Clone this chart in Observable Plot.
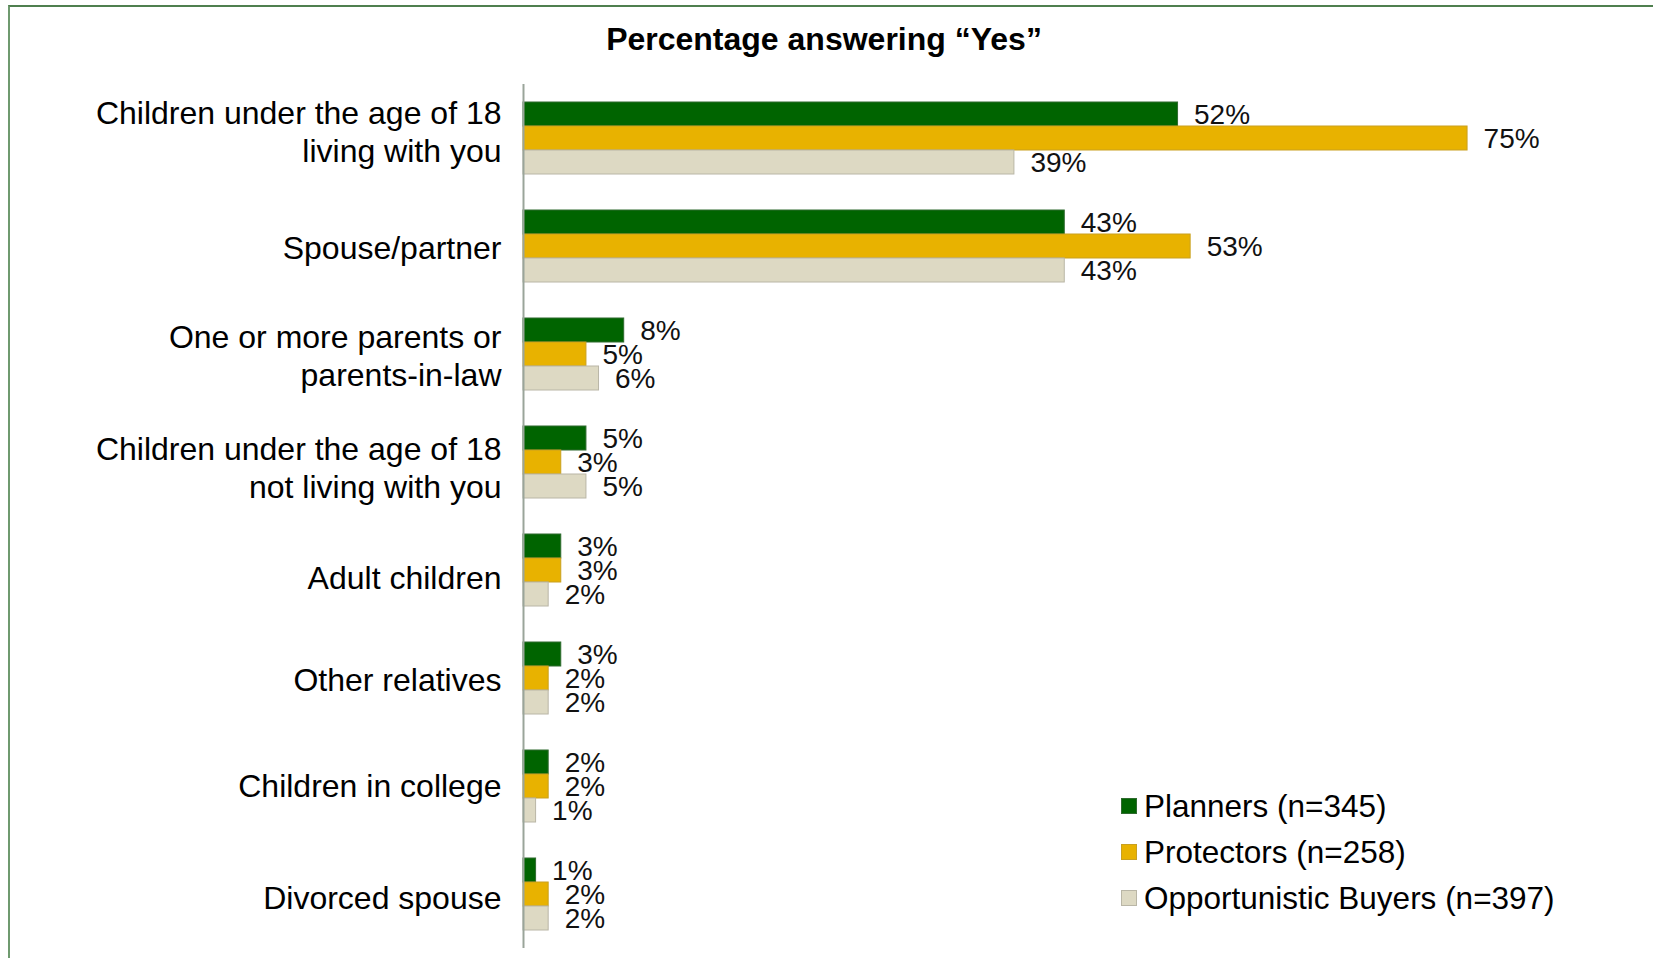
<!DOCTYPE html>
<html>
<head>
<meta charset="utf-8">
<script src="https://cdn.jsdelivr.net/npm/d3@7"></script>
<script src="https://cdn.jsdelivr.net/npm/@observablehq/plot@0.6"></script>
<style>
  html, body { margin: 0; padding: 0; background: #fff; }
  body { position: relative; width: 1653px; height: 958px; overflow: hidden; font-family: "Liberation Sans", Arial, sans-serif; }
  #frame { position: absolute; left: 8px; top: 5px; width: 1700px; height: 1000px; border-left: 2px solid #6f9a6f; border-top: 2px solid #4f7f4f; box-sizing: border-box; }
  #title { position: absolute; left: 0; top: 20px; width: 1648px; text-align: center; font-size: 32px; font-weight: bold; line-height: 38px; color: #000; }
  #chart { position: absolute; left: 0; top: 70px; }
  .legend-row { position: absolute; left: 1121px; height: 40px; display: flex; align-items: center; font-size: 31.5px; color: #000; white-space: nowrap; }
  .legend-row .sw { width: 16px; height: 16px; margin-right: 7px; box-sizing: border-box; border: 1px solid; }
</style>
</head>
<body>
<div id="frame"></div>
<div id="title">Percentage answering “Yes”</div>
<div id="chart"></div>
<div id="legend"></div>
<script>
const categories = [
  "Children under the age of 18 living with you",
  "Spouse/partner",
  "One or more parents or parents-in-law",
  "Children under the age of 18 not living with you",
  "Adult children",
  "Other relatives",
  "Children in college",
  "Divorced spouse"
];
const categoryLabels = [
  "Children under the age of 18\nliving with you",
  "Spouse/partner",
  "One or more parents or\nparents-in-law",
  "Children under the age of 18\nnot living with you",
  "Adult children",
  "Other relatives",
  "Children in college",
  "Divorced spouse"
];
const series = ["Planners (n=345)", "Protectors (n=258)", "Opportunistic Buyers (n=397)"];
const planners = [52, 43, 8, 5, 3, 3, 2, 1];
const protectors = [75, 53, 5, 3, 3, 2, 2, 2];
const opportunistic = [39, 43, 6, 5, 2, 2, 1, 2];
const seriesColors = ["#006400", "#e8b200", "#ddd9c3"];
const seriesStrokes = ["#2f6a2f", "#c9a020", "#b9b6a6"];
// small vertical nudges of the category labels, as placed in the original
const labelNudge = [-8, 0, 0, 4, 6, 0, -2, 2];

const seriesValues = [planners, protectors, opportunistic];
const data = categories.flatMap((c, i) =>
  series.map((s, j) => ({category: c, series: s, value: seriesValues[j][i]}))
);

const nudges = Array.from(new Set(labelNudge));
const axisMarks = nudges.map(n =>
  Plot.axisFy({
    ticks: categories.filter((c, i) => labelNudge[i] === n),
    anchor: "left", tickSize: 0, tickPadding: 22, fontSize: 32, lineHeight: 1.2,
    label: null, fill: "#000", dy: n,
    tickFormat: c => categoryLabels[categories.indexOf(c)]
  })
);

const chart = Plot.plot({
  width: 1653,
  height: 888,
  marginLeft: 523,
  marginRight: 123,
  marginTop: 12,
  marginBottom: 9,
  style: {fontFamily: '"Liberation Sans", Arial, sans-serif', background: "transparent", color: "#000"},
  x: {domain: [0, 80], axis: null},
  y: {domain: series, axis: null, paddingInner: 0, paddingOuter: 0.73},
  fy: {domain: categories, paddingInner: 0, paddingOuter: 0, label: null, axis: null},
  color: {type: "identity"},
  marks: [
    Plot.barX(data, {
      x: "value", y: "series", fy: "category",
      fill: d => seriesColors[series.indexOf(d.series)],
      stroke: d => seriesStrokes[series.indexOf(d.series)],
      strokeWidth: 1
    }),
    Plot.ruleX([0], {stroke: "#9aa59a", strokeWidth: 2}),
    Plot.text(data, {
      x: "value", y: "series", fy: "category",
      text: d => d.value + "%",
      dx: 16, dy: 1, textAnchor: "start", fontSize: 28, fill: "#111"
    }),
    ...axisMarks
  ]
});
document.getElementById("chart").appendChild(chart);

const legendTops = [806, 852, 898];
const legend = document.getElementById("legend");
series.forEach((s, j) => {
  const row = document.createElement("div");
  row.className = "legend-row";
  row.style.top = (legendTops[j] - 20) + "px";
  const sw = document.createElement("span");
  sw.className = "sw";
  sw.style.background = seriesColors[j];
  sw.style.borderColor = seriesStrokes[j];
  const t = document.createElement("span");
  t.textContent = s;
  row.appendChild(sw);
  row.appendChild(t);
  legend.appendChild(row);
});
</script>
</body>
</html>
